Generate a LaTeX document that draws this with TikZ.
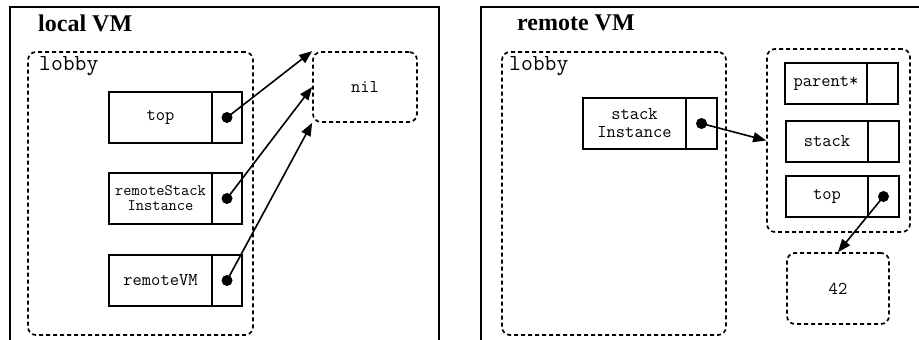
\documentclass[tikz,border=0pt]{standalone}
\usepackage{fontspec}
\setmainfont{Liberation Serif}
\usetikzlibrary{arrows.meta,positioning}
\tikzset{vmframe/.style={draw,line width=1.8pt,inner sep=0pt},vmtitle/.style={anchor=west,inner sep=0pt,font=\bfseries\fontsize{24}{28}\selectfont},objbox/.style={draw,dash pattern=on 4pt off 3pt,line width=1.7pt,rounded corners=8pt,inner sep=0pt,font=\ttfamily\fontsize{18}{20}\selectfont},lobbylabel/.style={anchor=west,inner sep=0pt,font=\ttfamily\fontsize{23}{25}\selectfont},slotname/.style={draw,line width=1.8pt,inner sep=0pt,outer sep=0pt,align=center,font=\ttfamily\fontsize{18}{18}\selectfont},slotptr/.style={draw,line width=1.8pt,inner sep=0pt,outer sep=0pt,anchor=west},refdot/.style={fill,circle,inner sep=0pt,minimum size=11pt},refarr/.style={-{Triangle[length=13pt,width=10pt]},line width=1.6pt}}

\begin{document}
\begin{tikzpicture}[x=1pt,y=-1pt]
\useasboundingbox (0,0) rectangle (919,340);
\clip (0,0) rectangle (919,340);
% local VM
\node[vmframe,minimum width=429pt,minimum height=360pt] (localvm) at (224.5,187) {};
\node[vmtitle] (localtitle) at (38,23) {local VM};
\node[objbox,minimum width=225pt,minimum height=283pt] (llobby) at (140.5,193.5) {};
\node[lobbylabel] (llobbylabel) at (39,66) {lobby};
\node[slotname,minimum width=103pt,minimum height=51pt] (ltop) at (160.5,117.5) {top};
\node[slotptr,minimum width=30pt,minimum height=51pt] (ltopp) at (ltop.east) {};
\node[slotname,minimum width=103pt,minimum height=51pt,font=\ttfamily\fontsize{16}{15}\selectfont] (lrsi) at (160.5,198.5) {remoteStack\\Instance};
\node[slotptr,minimum width=30pt,minimum height=51pt] (lrsip) at (lrsi.east) {};
\node[slotname,minimum width=103pt,minimum height=51pt] (lrvm) at (160.5,280.5) {remoteVM};
\node[slotptr,minimum width=30pt,minimum height=51pt] (lrvmp) at (lrvm.east) {};
\node[objbox,minimum width=104pt,minimum height=70pt] (nil) at (365,87) {nil};
\node[refdot] (ltopd) at (ltopp.center) {};
\node[refdot] (lrsid) at (lrsip.center) {};
\node[refdot] (lrvmd) at (lrvmp.center) {};
\draw[refarr] (ltopd.center)--(nil.north west);
\draw[refarr] (lrsid.center)--(nil.west);
\draw[refarr] (lrvmd.center)--(nil.south west);
% remote VM
\node[vmframe,minimum width=460pt,minimum height=360pt] (remotevm) at (711,187) {};
\node[vmtitle] (remotetitle) at (517,23) {remote VM};
\node[objbox,minimum width=224pt,minimum height=283pt] (rlobby) at (614,193.5) {};
\node[lobbylabel] (rlobbylabel) at (509,66) {lobby};
\node[slotname,minimum width=103pt,minimum height=51pt] (rsi) at (634.5,123.5) {stack\\Instance};
\node[slotptr,minimum width=31pt,minimum height=51pt] (rsip) at (rsi.east) {};
\node[objbox,minimum width=143pt,minimum height=183pt] (stackobj) at (838.5,140.5) {};
\node[slotname,minimum width=82pt,minimum height=41pt] (parent) at (826,83.5) {parent*};
\node[slotptr,minimum width=31pt,minimum height=41pt] (parentp) at (parent.east) {};
\node[slotname,minimum width=82pt,minimum height=41pt] (stack) at (827,141.5) {stack};
\node[slotptr,minimum width=31pt,minimum height=41pt] (stackp) at (stack.east) {};
\node[slotname,minimum width=82pt,minimum height=41pt] (rtop) at (827,196.5) {top};
\node[slotptr,minimum width=31pt,minimum height=41pt] (rtopp) at (rtop.east) {};
\node[objbox,minimum width=102pt,minimum height=71pt] (fortytwo) at (838,288.5) {42};
\node[refdot] (rsid) at (rsip.center) {};
\node[refdot] (rtopd) at (rtopp.center) {};
\draw[refarr] (rsid.center)--(stackobj.west);
\draw[refarr] (rtopd.center)--(fortytwo.north);
\end{tikzpicture}
\end{document}
